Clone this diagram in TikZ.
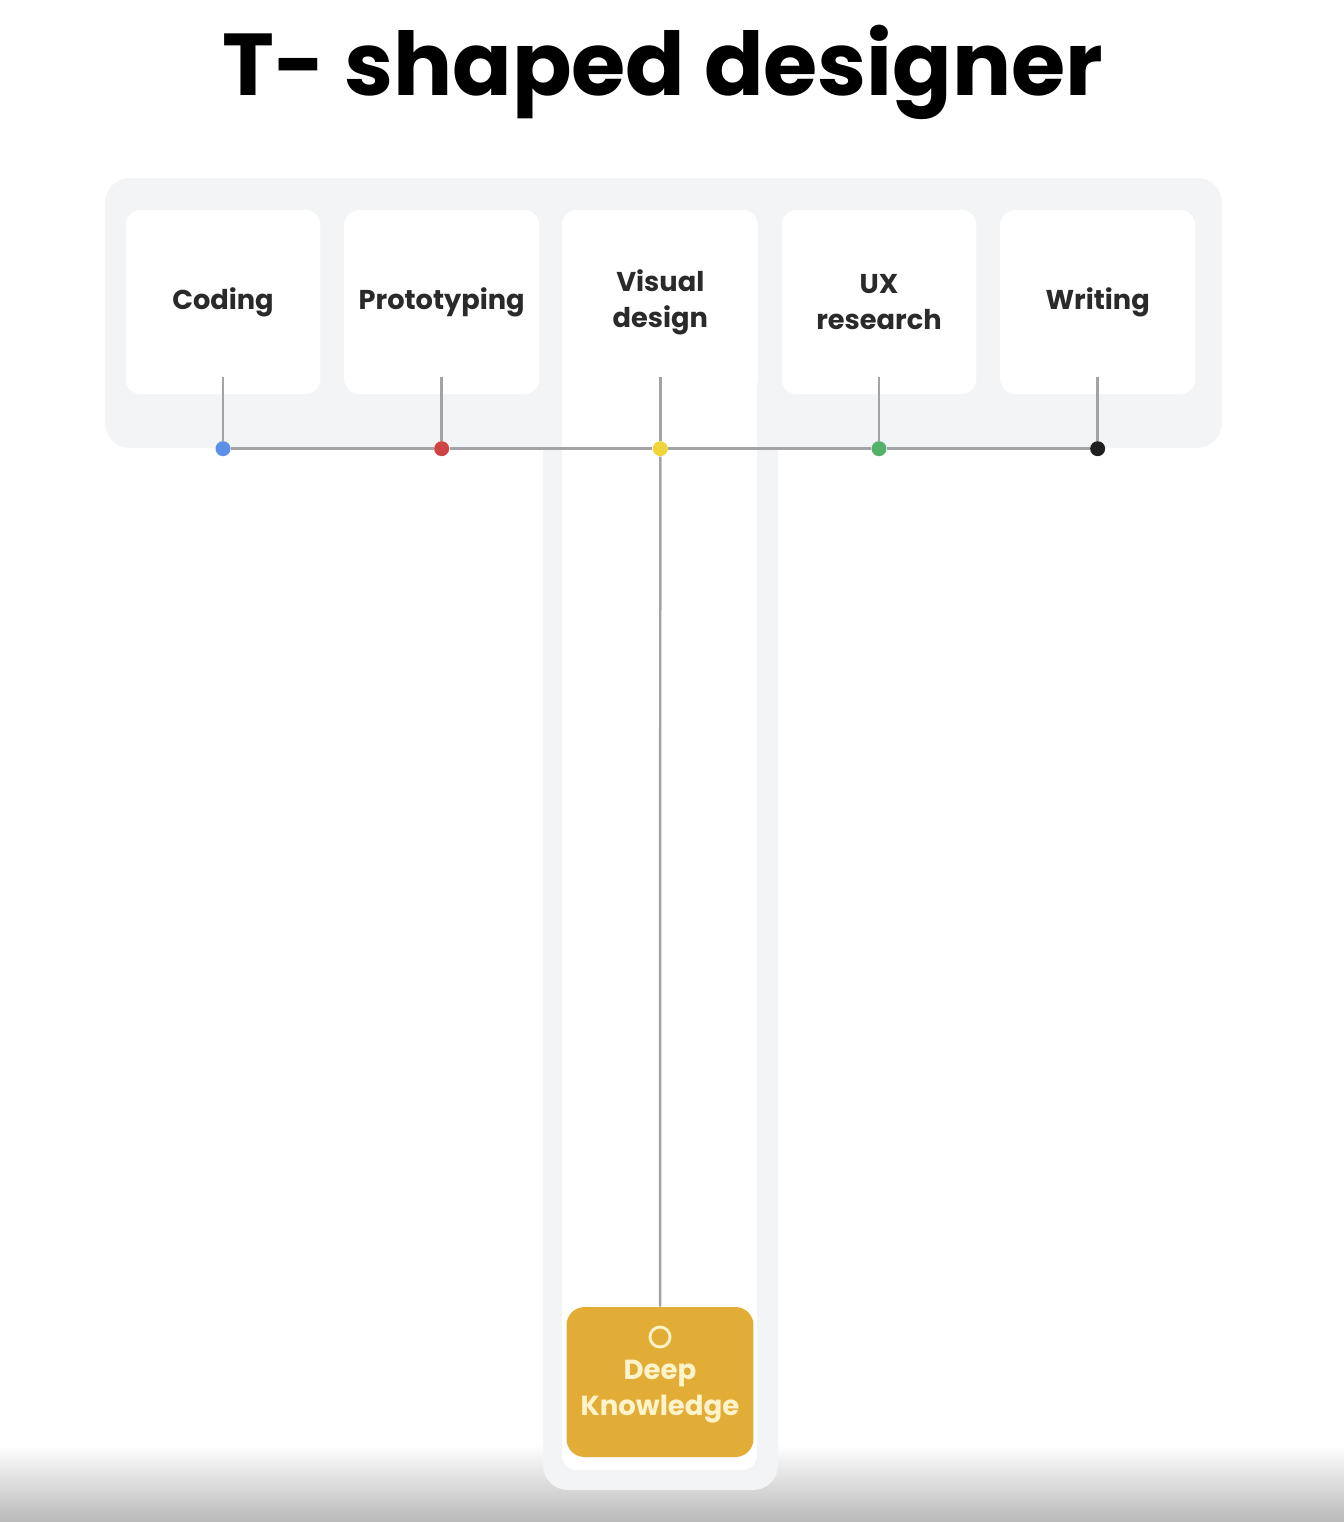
\documentclass[tikz,border=0pt]{standalone}
\usepackage{fontspec}
\setmainfont{Poppins}
\usetikzlibrary{positioning, calc}
\definecolor{barGray}{HTML}{F3F4F6}
\definecolor{stemGray}{HTML}{A3A3A6}
\definecolor{labelInk}{HTML}{2A2A2A}
\definecolor{dotBlue}{HTML}{5E8FE8}
\definecolor{dotRed}{HTML}{CE4343}
\definecolor{dotYellow}{HTML}{F0D43A}
\definecolor{dotGreen}{HTML}{55B26A}
\definecolor{dotBlack}{HTML}{1E1E1E}
\definecolor{deepGold}{HTML}{E2AD37}
\definecolor{deepCream}{HTML}{FFF3CC}
\definecolor{shadeGray}{HTML}{B9B9B9}

\begin{document}
\begin{tikzpicture}[x=0.02cm, y=-0.02cm,
    card/.style={rectangle, rounded corners=0.3cm, fill=white,
                 minimum width=3.9cm, minimum height=3.68cm, inner sep=0pt,
                 font=\fontsize{15.5}{20.5}\selectfont\bfseries, text=labelInk, align=center},
    dot/.style={circle, inner sep=0pt, minimum size=0.3cm},
    stem/.style={draw=stemGray, line width=1.4pt},
    deep/.style={rectangle, rounded corners=0.36cm, fill=deepGold,
                 minimum width=3.74cm, minimum height=3cm},
    deeptext/.style={font=\fontsize{15.7}{20.5}\selectfont\bfseries, text=deepCream, align=center},
]
\useasboundingbox[fill=white] (0,0) rectangle (1344,1522);

% Backdrop
\fill[top color=white, bottom color=shadeGray] (0,1445) rectangle (1344,1522);
\fill[barGray, rounded corners=0.5cm] (105,178) rectangle (1222,448);
\fill[barGray, rounded corners=0.5cm] (543,178) rectangle (778,1490);
\fill[white, rounded corners=0.3cm] (562,210) rectangle (757,1470);

% Title
\node[anchor=base, font=\fontsize{50}{60}\selectfont\bfseries] (title) at (663,95) {T- shaped designer};

% Skills
\node[card] (coding) at (223,302) {Coding};
\node[card, right=0.46cm of coding] (proto) {Prototyping};
\node[card, right=0.46cm of proto] (visual) {Visual\\design};
\node[card, right=0.46cm of visual] (uxr) {UX\\research};
\node[card, right=0.46cm of uxr] (writing) {Writing};

% Dots
\node[dot, fill=dotBlue, below=0.93cm of coding] (dcoding) {};
\node[dot, fill=dotRed, below=0.93cm of proto] (dproto) {};
\node[dot, fill=dotYellow, below=0.93cm of visual] (dvisual) {};
\node[dot, fill=dotGreen, below=0.93cm of uxr] (duxr) {};
\node[dot, fill=dotBlack, below=0.93cm of writing] (dwriting) {};

% Stems
\foreach \c/\d in {coding/dcoding, proto/dproto, visual/dvisual, uxr/duxr, writing/dwriting}
    \draw[stem] (\d) -- ([yshift=0.34cm]\c.south);
\draw[stem] (dcoding) -- (dproto) -- (dvisual) -- (duxr) -- (dwriting);

% Deep knowledge
\node[deep] (deep) at (660,1382) {};
\draw[stem] (dvisual) -- (deep);
\node[circle, draw=deepCream, line width=1.6pt, minimum size=0.4cm, inner sep=0pt] (ring) at (660,1337) {};
\node[deeptext] (deeplbl) at (660,1392) {Deep\\Knowledge};

\end{tikzpicture}
\end{document}
